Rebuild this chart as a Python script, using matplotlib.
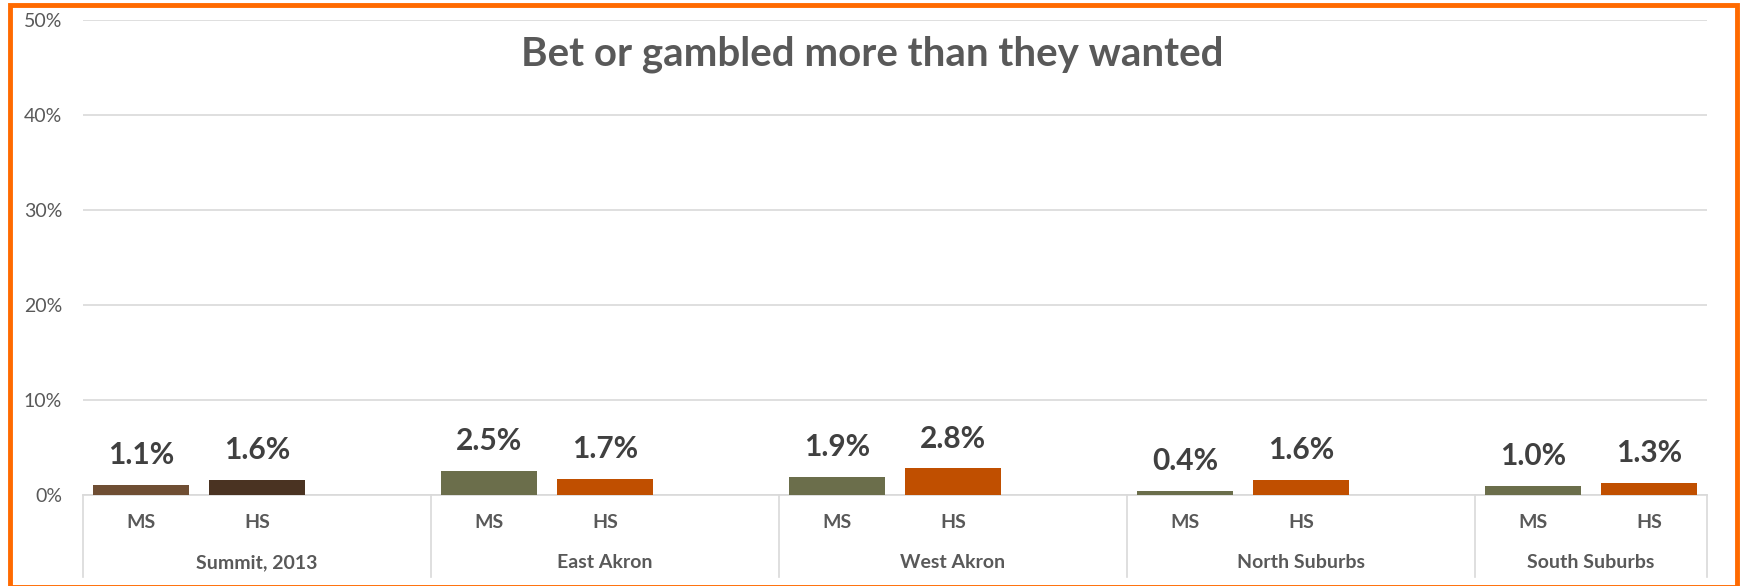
import matplotlib.pyplot as plt
from matplotlib.patches import Rectangle
import matplotlib.transforms as mtransforms

# data (percent)
groups = ["Summit, 2013", "East Akron", "West Akron", "North Suburbs", "South Suburbs"]
levels = ["MS", "HS"]
msValues = [1.1, 2.5, 1.9, 0.4, 1.0]
hsValues = [1.6, 1.7, 2.8, 1.6, 1.3]
msColors = ["#6F4E33", "#6B6E4B", "#6B6E4B", "#6B6E4B", "#6B6E4B"]
hsColors = ["#4A3322", "#C04F00", "#C04F00", "#C04F00", "#C04F00"]
yTicks = [0, 10, 20, 30, 40, 50]

plt.rcParams['font.family'] = ['Lato', 'DejaVu Sans']
textGray = "#595959"
labelGray = "#404040"
gridGray = "#D9D9D9"

W, H = 1741, 586
fig = plt.figure(figsize=(W / 100, H / 100), dpi=100)
ax = fig.add_axes([83 / W, 1 - 495 / H, 1624 / W, 475 / H])

# each group takes three slots (MS, HS, empty); the last group has no empty slot
slotCount = 3 * len(groups) - 1
msX = [3 * i for i in range(len(groups))]
hsX = [3 * i + 1 for i in range(len(groups))]
barWidth = 0.835

ax.bar(msX, msValues, width=barWidth, color=msColors, zorder=3)
ax.bar(hsX, hsValues, width=barWidth, color=hsColors, zorder=3)

for x, v in list(zip(msX, msValues)) + list(zip(hsX, hsValues)):
    ax.annotate("{:.1f}%".format(v), (x, v), xytext=(0, 15), textcoords="offset points",
                ha="center", va="baseline", fontsize=21.5, fontweight="bold", color=labelGray)

ax.set_xlim(-0.5, slotCount - 0.5)
ax.set_ylim(0, 50)
ax.set_yticks(yTicks)
ax.set_yticklabels(["{}%".format(t) for t in yTicks], fontsize=14, color=textGray)
ax.tick_params(axis="y", length=0, pad=15)
ax.set_xticks([])
ax.yaxis.grid(True, color=gridGray, linewidth=1.2, zorder=0)
for side in ["top", "right", "left"]:
    ax.spines[side].set_visible(False)
ax.spines["bottom"].set_color(gridGray)
ax.spines["bottom"].set_linewidth(1.2)

# multi-level category axis
trans = mtransforms.blended_transform_factory(ax.transData, ax.transAxes)
sepBottom = -(577 - 495) / 475
bounds = [-0.5] + [3 * i + 2.5 for i in range(len(groups) - 1)] + [slotCount - 0.5]
for b in bounds:
    ax.plot([b, b], [0, sepBottom], transform=trans, color=gridGray, linewidth=1.2, clip_on=False)

for i, g in enumerate(groups):
    for lx, lab in zip([msX[i], hsX[i]], levels):
        ax.text(lx, -(523 - 495) / 475, lab, transform=trans, ha="center", va="center",
                fontsize=14, fontweight="bold", color=textGray)
    center = (bounds[i] + bounds[i + 1]) / 2
    ax.text(center, -(563 - 495) / 475, g, transform=trans, ha="center", va="center",
            fontsize=14, fontweight="bold", color=textGray)

fig.text(872 / W, 1 - 54 / H, "Bet or gambled more than they wanted", ha="center", va="center",
         fontsize=29, fontweight="bold", color=textGray)

# orange frame round the chart
fig.patches.append(Rectangle((9.5 / W, 1 - 587 / H), 1727 / W, 582 / H, transform=fig.transFigure,
                             fill=False, edgecolor="#FF6A00", linewidth=3.5))

fig.savefig("out.png", dpi=100)
